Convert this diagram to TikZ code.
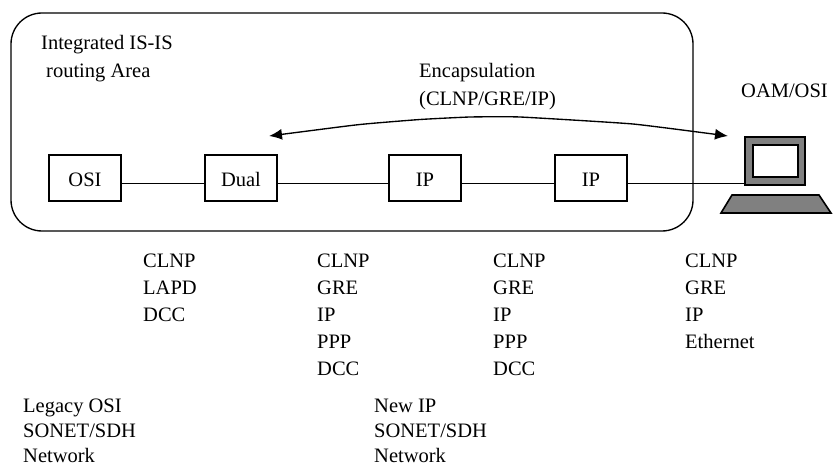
\documentclass[tikz,border=0pt]{standalone}
\usepackage{fontspec}
\setmainfont{Liberation Serif}
\usetikzlibrary{arrows.meta}
\newcommand{\firstline}{\rule{0pt}{16pt}}
\tikzset{
 box/.style={draw,line width=1.35pt,minimum width=72pt,minimum height=46pt,inner sep=0pt,text height=18pt,text depth=0pt,font=\fontsize{20.5}{24}\selectfont},
 lblbase/.style={anchor=north west,inner sep=0pt,align=left},
 lbl/.style={lblbase,font=\fontsize{20.5}{27}\selectfont},
 lbltight/.style={lblbase,font=\fontsize{20.5}{25}\selectfont},
 lblwide/.style={lblbase,font=\fontsize{20.5}{28.5}\selectfont},
 wire/.style={line width=1.35pt},
 pcpart/.style={draw,line width=1.6pt,inner sep=0pt},
 both tips/.style={{Latex[length=13pt,width=11pt]}-{Latex[length=13pt,width=11pt]}}
}
\definecolor{pcgrey}{gray}{0.5}
\begin{document}
\begin{tikzpicture}[x=1pt,y=-1pt]
\useasboundingbox[fill=white] (0,0) rectangle (833,465);
\draw[wire,rounded corners=31pt] (11,13) rectangle (693,231);
\node[box] (osi) at (85,178) {OSI};
\node[box] (dual) at (241,178) {Dual};
\node[box] (ip1) at (425,178) {IP};
\node[box] (ip2) at (591,178) {IP};
\coordinate (wy) at (0,183.7);
\draw[pcpart,fill=pcgrey] (721,213) -- (831,213) -- (819,195) -- (732,195) -- cycle;
\node[pcpart,fill=pcgrey,minimum width=60pt,minimum height=48pt] (pc) at (775,161) {};
\node[pcpart,fill=white,minimum width=45pt,minimum height=32pt] (screen) at (775.5,161) {};
\draw[wire] (osi.east|-wy) -- (dual.west|-wy);
\draw[wire] (dual.east|-wy) -- (ip1.west|-wy);
\draw[wire] (ip1.east|-wy) -- (ip2.west|-wy);
\draw[wire] (ip2.east|-wy) -- (pc.west|-wy);
\coordinate (aw) at (269,136);
\coordinate (ae) at (728,136);
\draw[wire,both tips] plot[smooth,tension=0.25] coordinates {(aw) (360,124.5) (420,119.5) (470,117) (520,117) (633,124) (ae)};
\node[lblwide] (t1) at (41,33) {\firstline Integrated IS-IS\\\hspace*{5pt}routing Area};
\node[lblwide] (t2) at (419,61) {\firstline Encapsulation\\(CLNP/GRE/IP)};
\node[lbl] (t3) at (741,81) {\firstline OAM/OSI};
\node[lbl] (c1) at (143,251) {\firstline CLNP\\LAPD\\DCC};
\node[lbl] (c2) at (317,251) {\firstline CLNP\\GRE\\IP\\PPP\\DCC};
\node[lbl] (c3) at (493,251) {\firstline CLNP\\GRE\\IP\\PPP\\DCC};
\node[lbl] (c4) at (685,251) {\firstline CLNP\\GRE\\IP\\Ethernet};
\node[lbltight] (n1) at (23,396) {\firstline Legacy OSI\\SONET/SDH\\Network};
\node[lbltight] (n2) at (374,396) {\firstline New IP\\SONET/SDH\\Network};
\end{tikzpicture}
\end{document}
